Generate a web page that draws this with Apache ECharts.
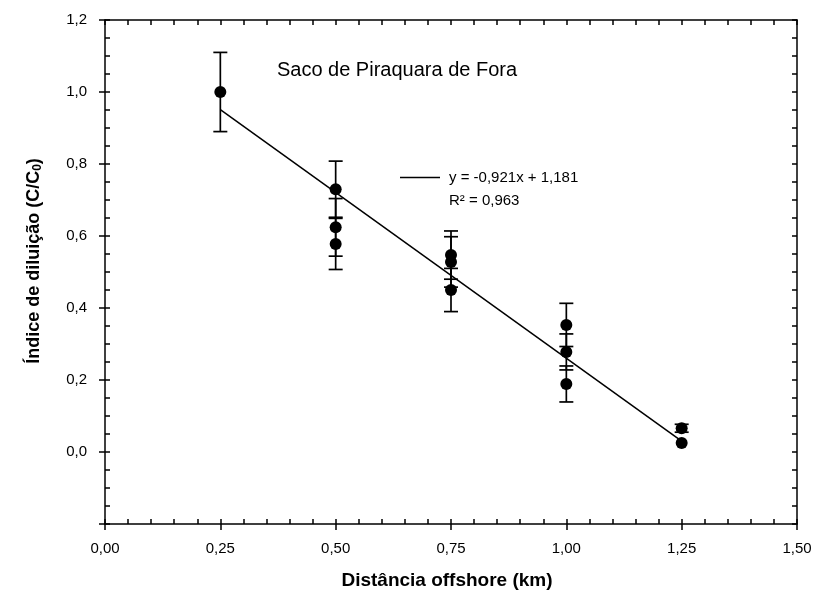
<!DOCTYPE html>
<html>
<head>
<meta charset="utf-8">
<script src="https://cdn.jsdelivr.net/npm/echarts@6/dist/echarts.min.js"></script>
<style>
html,body{margin:0;padding:0;background:#fff;}
#chart{width:818px;height:594px;}
</style>
</head>
<body>
<div id="chart"></div>
<script>
// ---- Data ----
const distance = [0.25, 0.5, 0.5, 0.5, 0.75, 0.75, 0.75, 1.0, 1.0, 1.0, 1.25, 1.25];
const dilution = [1.0, 0.73, 0.624, 0.578, 0.547, 0.528, 0.45, 0.353, 0.278, 0.189, 0.066, 0.025];
const errorBar = [0.11, 0.078, 0.08, 0.071, 0.067, 0.07, 0.06, 0.06, 0.05, 0.05, 0.011, 0];
const fitX = [0.25, 1.25];
const fitY = [0.951, 0.030];
const fitLabel = 'y = -0,921x + 1,181';
const r2Label = 'R² = 0,963';
const chartTitle = 'Saco de Piraquara de Fora';
const xTitle = 'Distância offshore (km)';

const FONT = '"Liberation Sans", Arial, sans-serif';
const points = distance.map((d, i) => [d, dilution[i], errorBar[i]]);
const fitData = fitX.map((x, i) => [x, fitY[i]]);

const comma = (v, n) => v.toFixed(n).replace('.', ',');

const chart = echarts.init(document.getElementById('chart'));
const lineBlack = { color: '#000', width: 1.5 };

chart.setOption({
  animation: false,
  backgroundColor: '#fff',
  textStyle: { fontFamily: FONT },
  title: {
    text: chartTitle,
    left: 397, top: 60, textAlign: 'center', padding: 0,
    textStyle: { fontFamily: FONT, fontSize: 20, fontWeight: 'normal', color: '#000' }
  },
  legend: {
    data: [{ name: fitLabel, icon: 'rect' }],
    left: 400, top: 170, padding: 0,
    itemWidth: 40, itemHeight: 1.5,
    itemStyle: { color: '#000' },
    textStyle: { fontFamily: FONT, fontSize: 15, color: '#000', padding: [0, 0, 0, 4] }
  },
  graphic: [{
    type: 'text', left: 449, top: 193,
    style: { text: r2Label, font: '15px ' + FONT, fill: '#000' }
  }],
  grid: { left: 105, right: 21, top: 20, bottom: 70, containLabel: false, outerBoundsMode: 'none' },
  xAxis: [{
    type: 'value', position: 'bottom', min: 0, max: 1.5, interval: 0.25,
    axisLine: { onZero: false, lineStyle: lineBlack },
    axisTick: { show: true, inside: false, length: 6, lineStyle: lineBlack },
    axisLabel: { formatter: v => comma(v, 2), color: '#000', fontSize: 15, fontFamily: FONT, margin: 17 },
    splitLine: { show: false },
    name: xTitle, nameLocation: 'middle', nameGap: 47,
    nameTextStyle: { fontFamily: FONT, fontSize: 19, fontWeight: 'bold', color: '#000', padding: [0, 8, 0, 0] }
  }, {
    type: 'value', position: 'bottom', min: 0, max: 1.5, interval: 0.05,
    axisLine: { show: false, onZero: false },
    axisTick: { show: true, inside: true, length: 5, lineStyle: lineBlack },
    axisLabel: { show: false }, splitLine: { show: false }
  }, {
    type: 'value', position: 'top', min: 0, max: 1.5, interval: 0.05,
    axisLine: { show: true, onZero: false, lineStyle: lineBlack },
    axisTick: { show: true, inside: true, length: 5, lineStyle: lineBlack },
    axisLabel: { show: false }, splitLine: { show: false }
  }],
  yAxis: [{
    type: 'value', position: 'left', min: -0.2, max: 1.2, interval: 0.2,
    axisLine: { onZero: false, lineStyle: lineBlack },
    axisTick: { show: true, inside: false, length: 6, lineStyle: lineBlack },
    axisLabel: { formatter: v => (v < -1e-9 ? '' : comma(v, 1)), color: '#000', fontSize: 15, fontFamily: FONT, margin: 18 },
    splitLine: { show: false },
    name: '{a|Índice de diluição (C/C}{s|0}{a|)}',
    nameLocation: 'middle', nameRotate: 90, nameGap: 61,
    nameTextStyle: {
      padding: [0, 0, 0, 22],
      rich: {
        a: { fontFamily: FONT, fontSize: 18, fontWeight: 'bold', color: '#000' },
        s: { fontFamily: FONT, fontSize: 12, fontWeight: 'bold', color: '#000', verticalAlign: 'bottom', padding: [8, 0, 0, 0] }
      }
    }
  }, {
    type: 'value', position: 'left', min: -0.2, max: 1.2, interval: 0.05,
    axisLine: { show: false, onZero: false },
    axisTick: { show: true, inside: true, length: 5, lineStyle: lineBlack },
    axisLabel: { show: false }, splitLine: { show: false }
  }, {
    type: 'value', position: 'right', min: -0.2, max: 1.2, interval: 0.05,
    axisLine: { show: true, onZero: false, lineStyle: lineBlack },
    axisTick: { show: true, inside: true, length: 5, lineStyle: lineBlack },
    axisLabel: { show: false }, splitLine: { show: false }
  }],
  series: [{
    name: fitLabel,
    type: 'line',
    data: fitData,
    symbol: 'none',
    lineStyle: { color: '#000', width: 1.5 },
    itemStyle: { color: '#000' },
    z: 2
  }, {
    type: 'custom',
    data: points,
    z: 3,
    renderItem: function (params, api) {
      const x = api.value(0), y = api.value(1), e = api.value(2);
      if (!(e > 0)) return { type: 'group', children: [] };
      const top = api.coord([x, y + e]);
      const bot = api.coord([x, y - e]);
      const hw = 7;
      const st = { stroke: '#000', lineWidth: 1.7 };
      return {
        type: 'group',
        children: [
          { type: 'line', shape: { x1: top[0], y1: top[1], x2: bot[0], y2: bot[1] }, style: st },
          { type: 'line', shape: { x1: top[0] - hw, y1: top[1], x2: top[0] + hw, y2: top[1] }, style: st },
          { type: 'line', shape: { x1: bot[0] - hw, y1: bot[1], x2: bot[0] + hw, y2: bot[1] }, style: st }
        ]
      };
    }
  }, {
    type: 'scatter',
    data: points.map(p => [p[0], p[1]]),
    symbol: 'circle',
    symbolSize: 12,
    itemStyle: { color: '#000', opacity: 1 },
    z: 4
  }]
});
</script>
</body>
</html>
